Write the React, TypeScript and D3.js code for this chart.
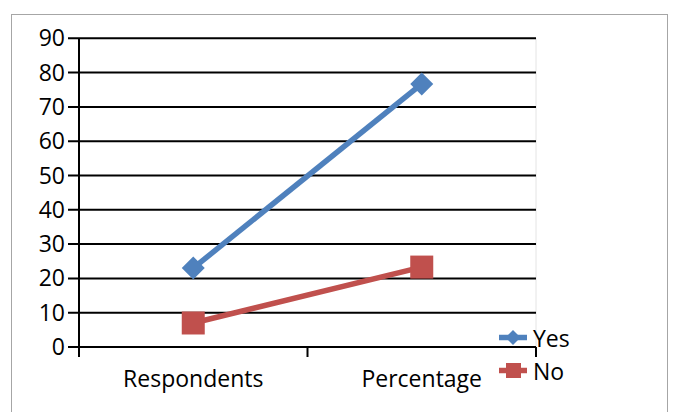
import React from "react";
import * as d3 from "d3";

const categories = ["Respondents", "Percentage"];
const yesValues = [23, 76.7];
const noValues = [7, 23.3];
const yTicks = [0, 10, 20, 30, 40, 50, 60, 70, 80, 90];
const seriesNames = ["Yes", "No"];

const BLUE = "#4F81BD";
const RED = "#C0504D";
const FONT = "'Open Sans', sans-serif";

export default function App() {
  const left = 79, right = 536, top = 38.3, bottom = 347;
  const x = d3.scaleBand<string>().domain(categories).range([left, right]).padding(0);
  const y = d3.scaleLinear().domain([0, 90]).range([bottom, top]);
  const cx = (c: string) => (x(c) as number) + x.bandwidth() / 2;
  const line = d3.line<[number, number]>().x((d) => d[0]).y((d) => d[1]);
  const yesPts: [number, number][] = categories.map((c, i) => [cx(c), y(yesValues[i])]);
  const noPts: [number, number][] = categories.map((c, i) => [cx(c), y(noValues[i])]);
  const diamond = (px: number, py: number, r: number) =>
    `M${px},${py - r}L${px + r},${py}L${px},${py + r}L${px - r},${py}Z`;
  const xTickPos = [left, ...categories.slice(1).map((c) => x(c) as number), right];

  return (
    <svg width={673} height={412} style={{ position: "absolute", left: 0, top: 0 }}>
      <rect x={0} y={0} width={673} height={412} fill="#fff" />
      <rect x={11.5} y={14.5} width={656} height={420} fill="none" stroke="#a6a6a6" strokeWidth={1} />
      <line x1={right} x2={right} y1={top} y2={bottom} stroke="#e4e4e4" strokeWidth={1} />
      {yTicks.map((t) => (
        <g key={t}>
          <line x1={68} x2={right} y1={y(t)} y2={y(t)} stroke="#000" strokeWidth={2} />
          <text x={65} y={y(t)} dy="0.35em" textAnchor="end" fontFamily={FONT} fontSize={23} fill="#000">
            {t}
          </text>
        </g>
      ))}
      <line x1={left} x2={left} y1={top} y2={357} stroke="#000" strokeWidth={2} />
      {xTickPos.map((p, i) => (
        <line key={i} x1={p} x2={p} y1={bottom} y2={357} stroke="#000" strokeWidth={2} />
      ))}
      {categories.map((c) => (
        <text key={c} x={cx(c)} y={386.5} textAnchor="middle" fontFamily={FONT} fontSize={23} fill="#000">
          {c}
        </text>
      ))}
      <path d={line(yesPts) as string} fill="none" stroke={BLUE} strokeWidth={5.5} />
      <path d={line(noPts) as string} fill="none" stroke={RED} strokeWidth={5.5} />
      {yesPts.map((p, i) => (
        <path key={i} d={diamond(p[0], p[1], 11.5)} fill={BLUE} />
      ))}
      {noPts.map((p, i) => (
        <rect key={i} x={p[0] - 11.5} y={p[1] - 11.5} width={23} height={23} fill={RED} />
      ))}
      {/* legend */}
      <g>
        <line x1={499} x2={527} y1={337.5} y2={337.5} stroke={BLUE} strokeWidth={5.5} />
        <path d={diamond(513, 337.5, 7.5)} fill={BLUE} />
        <text x={533} y={347} fontFamily={FONT} fontSize={23} fill="#000">
          {seriesNames[0]}
        </text>
        <line x1={499} x2={527} y1={370.5} y2={370.5} stroke={RED} strokeWidth={5.5} />
        <rect x={506} y={363} width={15} height={15} fill={RED} />
        <text x={533} y={380} fontFamily={FONT} fontSize={23} fill="#000">
          {seriesNames[1]}
        </text>
      </g>
    </svg>
  );
}
